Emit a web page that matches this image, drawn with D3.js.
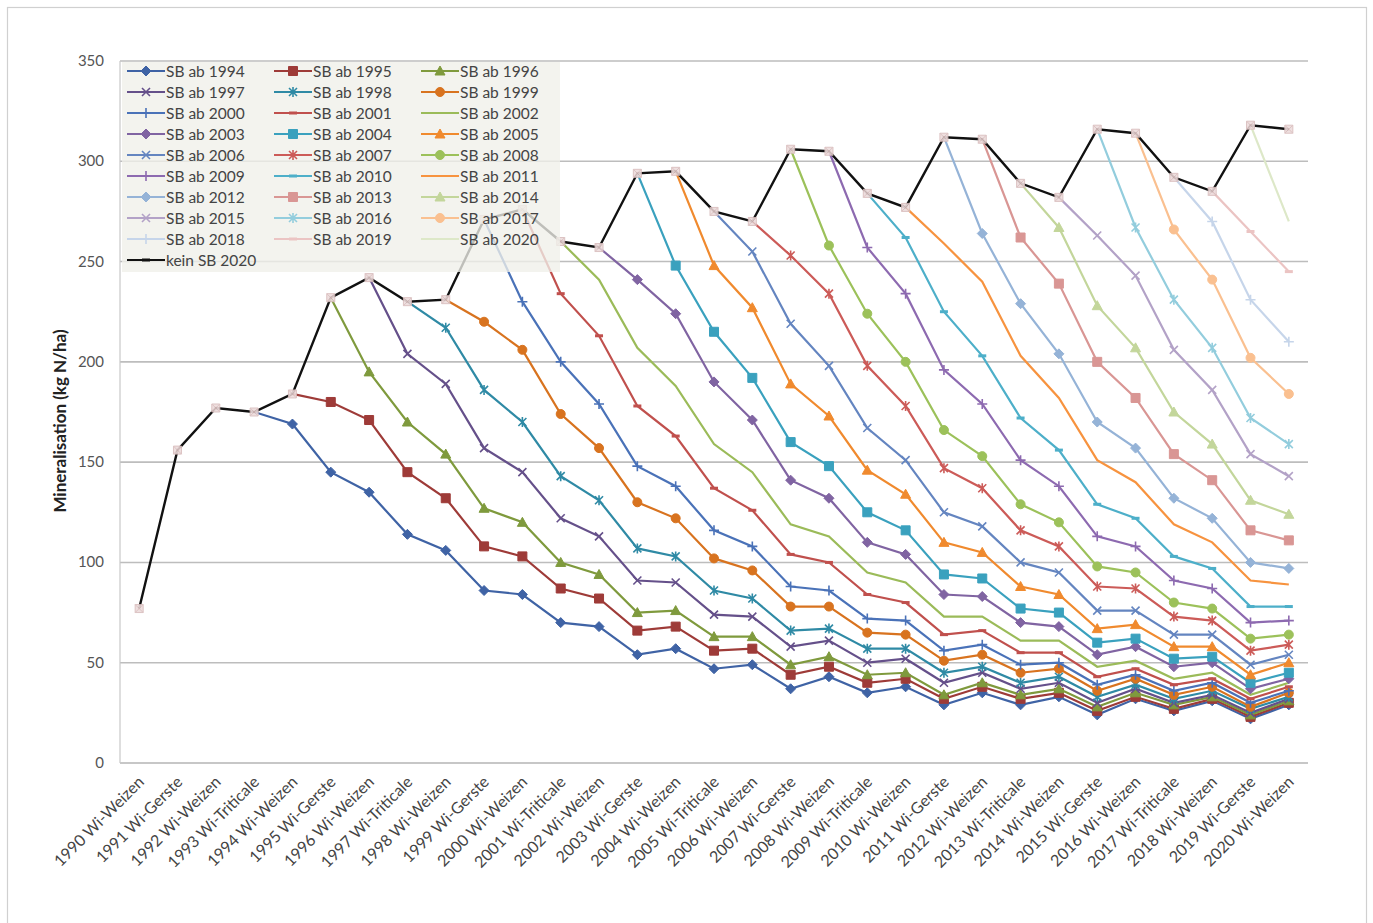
<!DOCTYPE html>
<html><head><meta charset="utf-8">
<script src="https://cdn.jsdelivr.net/npm/d3@7"></script>
<style>body{margin:0;background:#fff;} text{font-family:Lato,"Open Sans",sans-serif;}</style>
</head><body><svg id="c" width="1373" height="923"></svg>
<script>
// ---------- DATA ----------
const categories = ["1990 Wi-Weizen","1991 Wi-Gerste","1992 Wi-Weizen","1993 Wi-Triticale","1994 Wi-Weizen","1995 Wi-Gerste","1996 Wi-Weizen","1997 Wi-Triticale","1998 Wi-Weizen","1999 Wi-Gerste","2000 Wi-Weizen","2001 Wi-Triticale","2002 Wi-Weizen","2003 Wi-Gerste","2004 Wi-Weizen","2005 Wi-Triticale","2006 Wi-Weizen","2007 Wi-Gerste","2008 Wi-Weizen","2009 Wi-Triticale","2010 Wi-Weizen","2011 Wi-Gerste","2012 Wi-Weizen","2013 Wi-Triticale","2014 Wi-Weizen","2015 Wi-Gerste","2016 Wi-Weizen","2017 Wi-Triticale","2018 Wi-Weizen","2019 Wi-Gerste","2020 Wi-Weizen"];
const yTicks = [0,50,100,150,200,250,300,350];
const keinSB2020 = [77,156,177,175,184,232,242,230,231,271,276,260,257,294,295,275,270,306,305,284,277,312,311,289,282,316,314,292,285,318,316];
// each SB series starts one year before its "ab" year (shared point with kein SB)
const sb1994 = [175,169,145,135,114,106,86,84,70,68,54,57,47,49,37,43,35,38,29,35,29,33,24,32,26,31,22,29];
const sb1995 = [184,180,171,145,132,108,103,87,82,66,68,56,57,44,48,40,42,32,38,32,35,26,33,27,32,23,30];
const sb1996 = [232,195,170,154,127,120,100,94,75,76,63,63,49,53,44,45,34,40,34,37,28,35,29,33,24,31];
const sb1997 = [242,204,189,157,145,122,113,91,90,74,73,58,61,50,52,40,45,37,40,30,37,30,34,25,32];
const sb1998 = [230,217,186,170,143,131,107,103,86,82,66,67,57,57,45,48,40,43,33,39,32,36,27,33];
const sb1999 = [231,220,206,174,157,130,122,102,96,78,78,65,64,51,54,45,47,36,42,34,38,28,35];
const sb2000 = [271,230,200,179,148,138,116,108,88,86,72,71,56,59,49,50,39,44,36,40,30,36];
const sb2001 = [276,234,213,178,163,137,126,104,100,84,80,64,66,55,55,43,47,39,42,32,38];
const sb2002 = [260,241,207,188,159,145,119,113,95,90,73,73,61,61,48,51,42,45,34,40];
const sb2003 = [257,241,224,190,171,141,132,110,104,84,83,70,68,54,58,48,50,37,42];
const sb2004 = [294,248,215,192,160,148,125,116,94,92,77,75,60,62,52,53,40,45];
const sb2005 = [295,248,227,189,173,146,134,110,105,88,84,67,69,58,58,44,50];
const sb2006 = [275,255,219,198,167,151,125,118,100,95,76,76,64,64,49,54];
const sb2007 = [270,253,234,198,178,147,137,116,108,88,87,73,71,56,59];
const sb2008 = [306,258,224,200,166,153,129,120,98,95,80,77,62,64];
const sb2009 = [305,257,234,196,179,151,138,113,108,91,87,70,71];
const sb2010 = [284,262,225,203,172,156,129,122,103,97,78,78];
const sb2011 = [277,259,240,203,182,151,140,119,110,91,89];
const sb2012 = [312,264,229,204,170,157,132,122,100,97];
const sb2013 = [311,262,239,200,182,154,141,116,111];
const sb2014 = [289,267,228,207,175,159,131,124];
const sb2015 = [282,263,243,206,186,154,143];
const sb2016 = [316,267,231,207,172,159];
const sb2017 = [314,266,241,202,184];
const sb2018 = [292,270,231,210];
const sb2019 = [285,265,245];
const sb2020 = [318,270];
const seriesNames = ["SB ab 1994","SB ab 1995","SB ab 1996","SB ab 1997","SB ab 1998","SB ab 1999","SB ab 2000","SB ab 2001","SB ab 2002","SB ab 2003","SB ab 2004","SB ab 2005","SB ab 2006","SB ab 2007","SB ab 2008","SB ab 2009","SB ab 2010","SB ab 2011","SB ab 2012","SB ab 2013","SB ab 2014","SB ab 2015","SB ab 2016","SB ab 2017","SB ab 2018","SB ab 2019","SB ab 2020"];
const seriesValues = [sb1994,sb1995,sb1996,sb1997,sb1998,sb1999,sb2000,sb2001,sb2002,sb2003,sb2004,sb2005,sb2006,sb2007,sb2008,sb2009,sb2010,sb2011,sb2012,sb2013,sb2014,sb2015,sb2016,sb2017,sb2018,sb2019,sb2020];
const seriesColors = ["#3F63A5","#9E3B38","#7F9A3D","#65508A","#2F8AA5","#D8731F",
                      "#4A72B8","#C0504D","#9BBB59","#8064A2","#3AA1BE","#F08A2E",
                      "#6485C0","#CC5B58","#9CC15A","#8D6AB0","#4DAFC9","#F7933F",
                      "#95B3D7","#D99694","#C3D69B","#B3A2C7","#93CDDD","#FAC090",
                      "#C6D5EA","#EBC4C3","#DDE8C8"];
const markerCycle = ["diamond","square","triangle","x","star","circle","plus","dash","none"];

// ---------- LAYOUT ----------
const svg = d3.select("#c");
const L = 120, R = 1308, T = 61, B = 763;
const x = d3.scalePoint().domain(categories).range([L, R]).padding(0.5);
const y = d3.scaleLinear().domain([0, 350]).range([B, T]);

// outer border
svg.append("rect").attr("x",7.5).attr("y",7.5).attr("width",1359).attr("height",940)
  .attr("fill","none").attr("stroke","#d0d0d0").attr("stroke-width",1.2);

// gridlines
svg.append("g").selectAll("line").data(yTicks.filter(d=>d>0)).join("line")
  .attr("x1",L).attr("x2",R).attr("y1",d=>y(d)).attr("y2",d=>y(d))
  .attr("stroke","#bdbdbd").attr("stroke-width",1.6);
// axes lines
svg.append("line").attr("x1",L).attr("x2",R).attr("y1",B).attr("y2",B).attr("stroke","#b5b5b5").attr("stroke-width",1.6);
svg.append("line").attr("x1",L).attr("x2",L).attr("y1",T).attr("y2",B).attr("stroke","#c8c8c8").attr("stroke-width",1.2);

// y tick labels
svg.append("g").selectAll("text").data(yTicks).join("text")
  .attr("x",104).attr("y",d=>y(d)+5).attr("text-anchor","end")
  .attr("font-size",15).attr("fill","#555").text(d=>d);

// y title
svg.append("text").attr("transform",`translate(66,${(T+B)/2+9}) rotate(-90)`)
  .attr("text-anchor","middle").attr("font-size",17).attr("font-weight","bold").attr("fill","#222")
  .text("Mineralisation (kg N/ha)");

// x labels
svg.append("g").selectAll("text").data(categories).join("text")
  .attr("transform",d=>`translate(${x(d)+6},${B+20}) rotate(-45)`)
  .attr("text-anchor","end").attr("font-size",16).attr("fill","#444").text(d=>d);

// markers
function markerPath(type){
  switch(type){
    case "diamond": return "M0,-5L5,0L0,5L-5,0Z";
    case "square": return "M-4.5,-4.5H4.5V4.5H-4.5Z";
    case "triangle": return "M0,-5L5,4L-5,4Z";
    case "x": return "M-4,-4L4,4M-4,4L4,-4";
    case "star": return "M-4,-4L4,4M-4,4L4,-4M0,-5L0,5";
    case "circle": return "M4.5,0A4.5,4.5 0 1,1 -4.5,0A4.5,4.5 0 1,1 4.5,0Z";
    case "plus": return "M-5,0L5,0M0,-5L0,5";
    case "dash": return "M-4,0L4,0";
    default: return null;
  }
}
function drawMarker(g, type, color, cx, cy){
  const p = markerPath(type);
  if(!p) return;
  const open = (type==="x"||type==="star"||type==="plus"||type==="dash");
  g.append("path").attr("d",p).attr("transform",`translate(${cx},${cy})`)
   .attr("fill",open?"none":color).attr("stroke",color).attr("stroke-width",open?(type==="dash"?3:1.6):1);
}

const line = d3.line().x(d=>x(d.c)).y(d=>y(d.v));
const gSeries = svg.append("g");
seriesValues.forEach((vals,i)=>{
  const startIdx = (1994+i-1) - 1990;
  const pts = vals.map((v,k)=>({c:categories[startIdx+k], v}));
  const color = seriesColors[i];
  const g = gSeries.append("g");
  g.append("path").datum(pts).attr("d",line).attr("fill","none").attr("stroke",color).attr("stroke-width",2.2);
  const type = markerCycle[i % markerCycle.length];
  pts.slice(1).forEach(p=>drawMarker(g,type,color,x(p.c),y(p.v)));
});
// kein SB 2020
const kpts = keinSB2020.map((v,k)=>({c:categories[k], v}));
svg.append("path").datum(kpts).attr("d",line).attr("fill","none").attr("stroke","#111").attr("stroke-width",2.4);
svg.append("g").selectAll("path").data(kpts).join("path")
  .attr("d","M-4,-4H4V4H-4Z M-4,-4L4,4M-4,4L4,-4")
  .attr("transform",d=>`translate(${x(d.c)},${y(d.v)})`)
  .attr("fill","#eddcdc").attr("stroke","#d9bdbd").attr("stroke-width",1).attr("opacity",0.9);

// legend
const leg = svg.append("g");
leg.append("rect").attr("x",122).attr("y",62).attr("width",438).attr("height",210)
  .attr("fill","#efefe9").attr("opacity",0.78);
const legItems = seriesNames.map((n,i)=>({name:n,color:seriesColors[i],type:markerCycle[i%markerCycle.length]}));
legItems.push({name:"kein SB 2020",color:"#111",type:"dash"});
legItems.forEach((it,i)=>{
  const col = i%3, row = Math.floor(i/3);
  const lx = 127 + 147*col, ly = 71 + 21*row;
  leg.append("line").attr("x1",lx).attr("x2",lx+38).attr("y1",ly).attr("y2",ly)
    .attr("stroke",it.color).attr("stroke-width",2.2);
  drawMarker(leg,it.type,it.color,lx+19,ly);
  leg.append("text").attr("x",lx+39).attr("y",ly+5.5).attr("font-size",15.5).attr("fill","#444").text(it.name);
});
</script></body></html>
